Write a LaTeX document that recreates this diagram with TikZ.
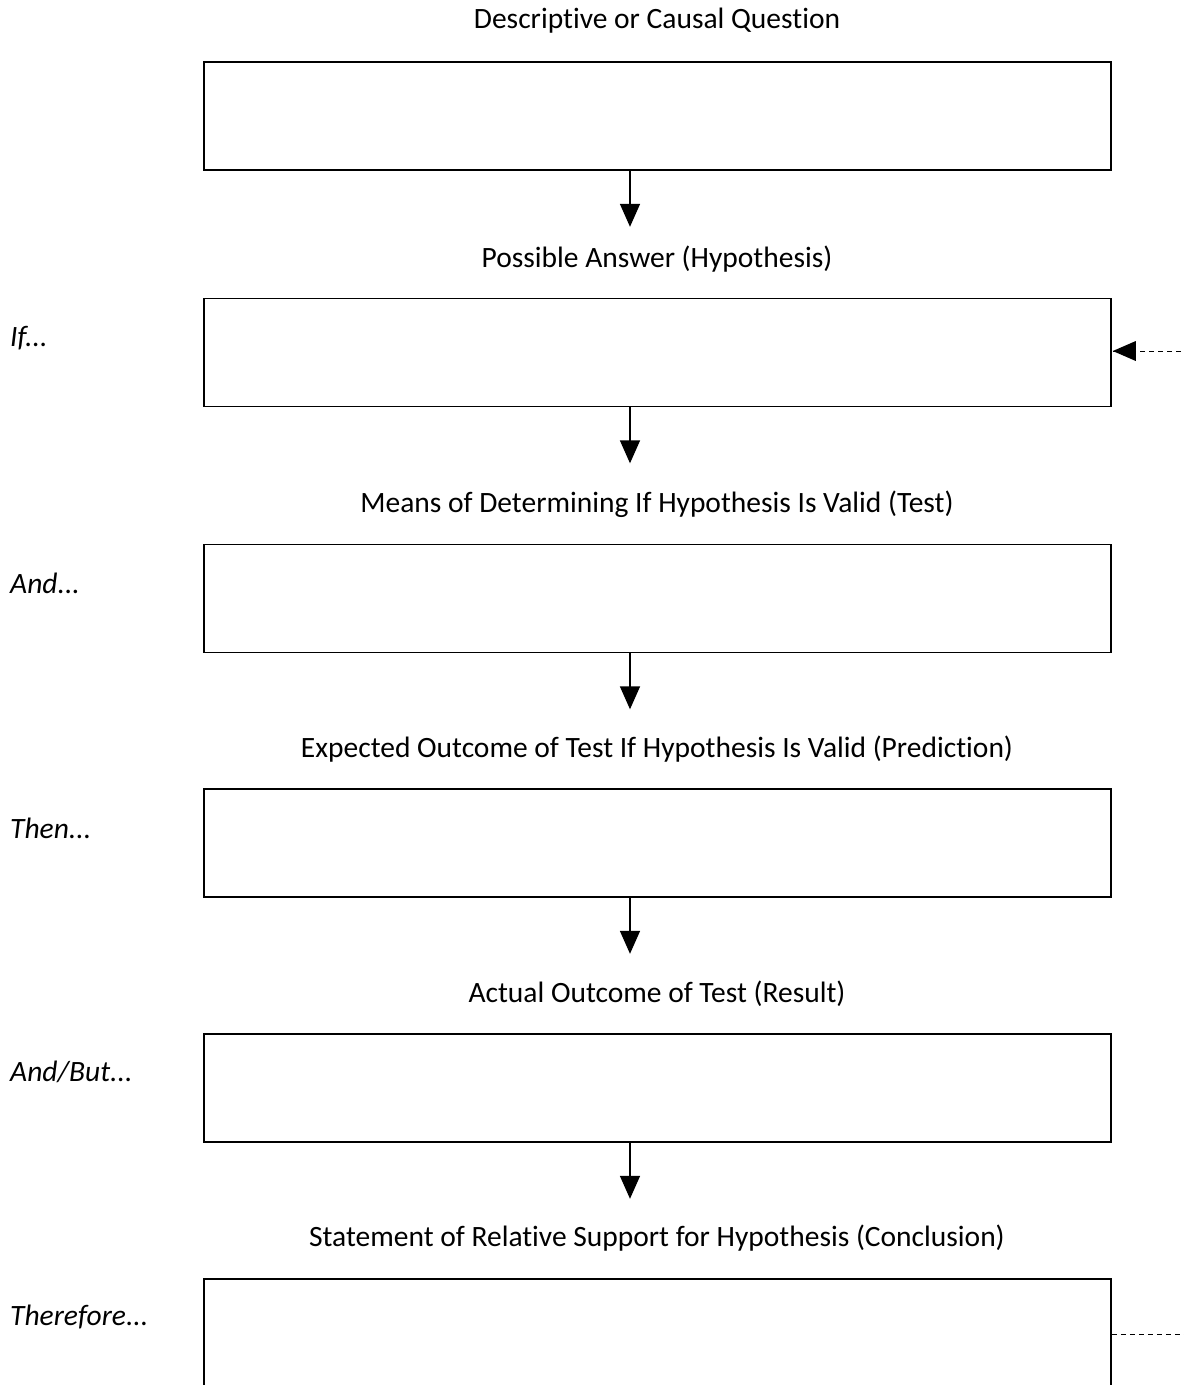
\documentclass[tikz,border=0pt]{standalone}
\usepackage{fontspec}
\setmainfont{Carlito}[Ligatures={NoCommon,NoRequired,NoContextual}]
\usetikzlibrary{arrows.meta}
\tikzset{
  stagebox/.style={draw, line width=1.6pt, minimum width=907pt, minimum height=108pt, inner sep=0pt},
  stagelabel/.style={font=\fontsize{29.5}{35}\selectfont, inner sep=0pt},
  sidelabel/.style={font=\fontsize{29.5}{35}\selectfont\itshape, anchor=west, inner sep=0pt},
  flow/.style={line width=1.6pt, -{Triangle[length=23pt,width=20pt]}},
  backflow/.style={line width=1pt, dashed, dash pattern=on 5pt off 4pt},
}
\begin{document}
\begin{tikzpicture}[x=1pt,y=-1pt]
  \useasboundingbox (0,0) rectangle (1184,1385);
  \clip (0,0) rectangle (1184,1385);

  % Stage labels
  \node[stagelabel] (l1) at (657,21) {Descriptive or Causal Question};
  \node[stagelabel] (l2) at (657,259) {Possible Answer (Hypothesis)};
  \node[stagelabel] (l3) at (657,504) {Means of Determining If Hypothesis Is Valid (Test)};
  \node[stagelabel] (l4) at (657,749) {Expected Outcome of Test If Hypothesis Is Valid (Prediction)};
  \node[stagelabel] (l5) at (657,994) {Actual Outcome of Test (Result)};
  \node[stagelabel] (l6) at (657,1238) {Statement of Relative Support for Hypothesis (Conclusion)};

  % Side labels
  \node[sidelabel] (s2) at (10,338) {If...};
  \node[sidelabel] (s3) at (10,583) {And...};
  \node[sidelabel] (s4) at (10,828) {Then...};
  \node[sidelabel] (s5) at (10,1072) {And/But...};
  \node[sidelabel] (s6) at (10,1317) {Therefore...};

  % Boxes
  \node[stagebox] (b1) at (657.5,116) {};
  \node[stagebox] (b2) at (657.5,352.5) {};
  \node[stagebox] (b3) at (657.5,598.5) {};
  \node[stagebox] (b4) at (657.5,843) {};
  \node[stagebox] (b5) at (657.5,1088) {};
  \node[stagebox] (b6) at (657.5,1333) {};

  \coordinate (ax) at (630,0);
  \foreach \i/\j in {1/2,2/3,3/4,4/5,5/6}
    \draw[flow] (b\i.south -| ax) -- ++(0,56);

  % Feedback loop
  \coordinate (r2) at (1190,351);
  \coordinate (r6) at (1190,1334);
  \draw[backflow] (r2) -- (b2.east |- r2);
  \fill (b2.east |- r2) ++(1,0) -- ++(23,-10) -- ++(0,20) -- cycle;
  \draw[backflow] (b6.east |- r6) -- (r6);
\end{tikzpicture}
\end{document}
